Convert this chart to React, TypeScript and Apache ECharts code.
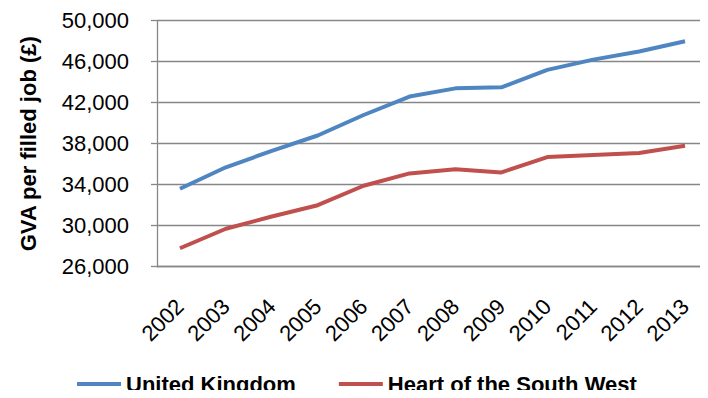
import React, { useEffect, useRef } from "react";
import * as echarts from "echarts";

const years = ["2002", "2003", "2004", "2005", "2006", "2007", "2008", "2009", "2010", "2011", "2012", "2013"];
const unitedKingdom = [33600, 35700, 37300, 38800, 40800, 42600, 43400, 43500, 45200, 46200, 47000, 48000];
const heartOfSouthWest = [27800, 29700, 30900, 32000, 33900, 35100, 35500, 35200, 36700, 36900, 37100, 37800];
const yMin = 26000;
const yMax = 50000;
const yStep = 4000;
const yAxisTitle = "GVA per filled job (£)";
const seriesNames = ["United Kingdom", "Heart of the South West"];

const FONT = "'Liberation Sans', Arial, sans-serif";
const AXIS_GRAY = "#878787";

export default function App() {
  const ref = useRef<HTMLDivElement>(null);
  useEffect(() => {
    if (!ref.current) return;
    const chart = echarts.init(ref.current, null, { renderer: "svg" });
    chart.setOption({
      animation: false,
      textStyle: { fontFamily: FONT },
      grid: { left: 157, top: 20.7, width: 556, height: 246 },
      legend: {
        left: 77,
        top: 373,
        padding: 0,
        itemWidth: 44,
        itemHeight: 4,
        itemGap: 43,
        icon: "rect",
        textStyle: { fontFamily: FONT, fontSize: 22, fontWeight: "bold", color: "#000" },
        data: seriesNames,
      },
      xAxis: {
        type: "category",
        data: years,
        boundaryGap: true,
        axisLine: { lineStyle: { color: AXIS_GRAY, width: 1.3 } },
        axisTick: { length: 7, lineStyle: { color: AXIS_GRAY, width: 1.3 } },
        axisLabel: {
          interval: 0,
          rotate: 45,
          margin: 36,
          fontFamily: FONT,
          fontSize: 22,
          color: "#000",
        },
        splitLine: { show: false },
      },
      yAxis: {
        type: "value",
        min: yMin,
        max: yMax,
        interval: yStep,
        name: yAxisTitle,
        nameLocation: "middle",
        nameGap: 118,
        nameTextStyle: { fontFamily: FONT, fontSize: 22, fontWeight: "bold", color: "#000" },
        axisLine: { show: true, lineStyle: { color: AXIS_GRAY, width: 1.3 } },
        axisTick: { show: true, length: 6, lineStyle: { color: AXIS_GRAY, width: 1.3 } },
        axisLabel: {
          margin: 28,
          fontFamily: FONT,
          fontSize: 22,
          color: "#000",
          formatter: (v: number) => v.toLocaleString("en-US"),
        },
        splitLine: { show: true, lineStyle: { color: AXIS_GRAY, width: 1.3 } },
      },
      series: [
        {
          name: seriesNames[0],
          type: "line",
          data: unitedKingdom,
          symbol: "none",
          color: "#4F86C2",
          lineStyle: { width: 4, color: "#4F86C2" },
        },
        {
          name: seriesNames[1],
          type: "line",
          data: heartOfSouthWest,
          symbol: "none",
          color: "#C0504D",
          lineStyle: { width: 4, color: "#C0504D" },
        },
      ],
    });
    return () => chart.dispose();
  }, []);
  return <div ref={ref} style={{ width: 708, height: 398, margin: -8 }} />;
}
